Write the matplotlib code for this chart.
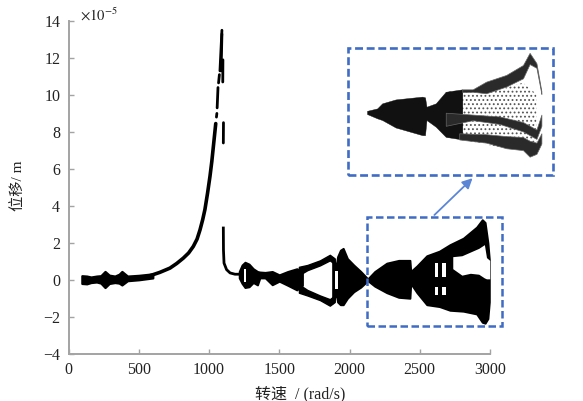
import matplotlib
matplotlib.use("Agg")
import matplotlib.pyplot as plt
from matplotlib.patches import Rectangle

plt.rcParams["font.family"] = ["Liberation Serif", "Noto Sans CJK SC", "DejaVu Sans"]
plt.rcParams["mathtext.fontset"] = "stix"
plt.rcParams["hatch.linewidth"] = 0.8

GREY = "#a3a3a3"
BLUE = "#3f6cc4"
TEXT = "#222222"

x_ticks = [0, 500, 1000, 1500, 2000, 2500, 3000]
y_ticks = [-4, -2, 0, 2, 4, 6, 8, 10, 12, 14]

# low speed band
low_speed = [95, 130, 160, 200, 230, 260, 290, 330, 360, 380, 420, 500, 600]
low_upper = [0.22, 0.2, 0.15, 0.2, 0.22, 0.45, 0.25, 0.2, 0.3, 0.45, 0.2, 0.24, 0.32]
low_lower = [-0.2, -0.22, -0.15, -0.12, -0.18, -0.42, -0.2, -0.15, -0.18, -0.28, -0.05, 0.0, 0.1]

# resonance rise, then the broken pieces near the peak
rise_speed = [580, 650, 722, 770, 817, 855, 888, 915, 936, 955, 971, 990, 1007, 1020, 1031, 1048]
rise_value = [0.22, 0.4, 0.63, 0.88, 1.17, 1.45, 1.8, 2.2, 2.7, 3.25, 3.8, 4.7, 5.6, 6.4, 7.2, 8.45]
dash_speed = [(1053, 1056), (1058, 1064), (1068, 1074), (1078, 1092), (1086, 1092), (1098, 1099), (1102, 1103)]
dash_value = [(8.8, 9.0), (9.3, 10.4), (10.65, 11.1), (11.3, 13.5), (11.3, 13.3), (10.7, 11.9), (7.4, 8.5)]
drop_speed = [1102, 1103, 1107, 1125, 1150, 1185, 1225]
drop_value = [2.8, 1.6, 0.9, 0.55, 0.37, 0.3, 0.3]

# after the resonance, single band
mid_speed = [1215, 1235, 1256, 1285, 1315, 1345, 1362, 1400, 1450, 1500, 1560, 1625, 1665]
mid_upper = [0.45, 0.8, 0.95, 0.85, 0.6, 0.45, 0.42, 0.4, 0.45, 0.27, 0.45, 0.6, 0.45]
mid_lower = [0.1, -0.2, -0.42, -0.38, -0.15, -0.28, 0.1, 0.1, -0.27, -0.08, -0.3, -0.55, -0.3]

# diamond shaped split
branch_speed = [1640, 1700, 1790, 1860, 1895]
branch_up_top = [0.7, 0.8, 1.05, 1.35, 1.15]
branch_up_bottom = [0.25, 0.52, 0.78, 1.05, 0.85]
branch_low_top = [-0.25, -0.55, -0.85, -1.05, -0.85]
branch_low_bottom = [-0.7, -0.85, -1.1, -1.4, -1.2]

# wide band up to the end of the sweep
wide_speed = [1880, 1905, 1915, 1935, 1955, 1985, 2030, 2080, 2130, 2180, 2265, 2350, 2430, 2436,
              2480, 2550, 2640, 2715, 2810, 2905, 2945, 2965, 2985, 2995]
wide_upper = [1.2, 0.75, 1.25, 1.6, 1.7, 1.15, 0.8, 0.45, 0.05, 0.45, 0.9, 1.05, 1.05, 0.45,
              0.75, 1.3, 1.55, 1.9, 2.25, 2.85, 3.25, 3.1, 2.0, 1.1]
wide_lower = [-1.25, -0.75, -1.2, -1.35, -1.35, -1.0, -0.65, -0.4, -0.05, -0.35, -0.7, -0.95, -1.0, -0.2,
              -0.7, -1.35, -1.45, -1.65, -1.7, -1.85, -2.3, -2.35, -2.1, -1.2]

# white gaps inside the wide band
gap_speed = [2735, 2800, 2860, 2920, 2960, 2975, 2998]
gap_upper = [1.25, 1.3, 1.5, 1.7, 1.9, 1.2, 1.05]
gap_lower = [0.6, 0.25, 0.35, 0.3, 0.1, 0.05, 0.05]
stripe_left = [2610, 2660, 2610, 2660, 1900, 1248]
stripe_right = [2630, 2690, 2630, 2690, 1915, 1262]
stripe_top = [0.9, 0.9, -0.4, -0.4, 0.5, 0.6]
stripe_bottom = [0.15, 0.15, -0.8, -0.8, -0.5, -0.1]

# zoomed panel
inset_speed = [2130, 2179, 2203, 2268, 2397, 2410, 2417, 2462, 2510, 2590]
inset_upper = [0.1, 0.23, 0.5, 0.71, 0.86, 0.82, 0.32, 0.5, 1.12, 1.25]
inset_lower = [-0.07, -0.3, -0.39, -0.79, -1.2, -1.2, -0.39, -0.75, -1.29, -1.43]
tip_speed = [2590, 2640, 2705, 2802, 2883, 2915, 2948, 2972]
tip_upper = [1.25, 1.25, 1.66, 2.02, 2.55, 3.2, 2.65, 1.15]
tip_lower = [1.1, 1.12, 1.04, 1.4, 1.84, 2.6, 2.4, 1.0]
mid_branch_speed = [2510, 2640, 2770, 2883, 2948, 2972]
mid_branch_upper = [0.0, -0.1, -0.2, -0.5, -0.9, -0.1]
mid_branch_lower = [-0.7, -0.4, -0.6, -1.0, -1.4, -0.7]
bot_branch_speed = [2575, 2705, 2802, 2883, 2915, 2948, 2972]
bot_branch_upper = [-1.1, -1.15, -1.25, -1.3, -1.5, -1.6, -1.1]
bot_branch_lower = [-1.43, -1.6, -1.9, -2.0, -2.35, -2.2, -1.65]
haze_speed = [2510, 2590, 2705, 2802, 2883, 2948]
haze_upper = [1.1, 1.2, 1.05, 1.35, 1.6, 1.0]
haze_lower = [-1.3, -1.43, -1.7, -1.9, -2.0, -2.0]

fig = plt.figure(figsize=(5.83, 4.01), dpi=100)
ax = fig.add_axes([68.5 / 583, 1 - 353.7 / 401, 421.5 / 583, 332.7 / 401])
ax.set_xlim(0, 3000)
ax.set_ylim(-4, 14)
ax.set_xticks(x_ticks)
ax.set_yticks(y_ticks)
ax.set_yticklabels([str(v).replace("-", "\u2212") for v in y_ticks])
ax.spines["top"].set_visible(False)
ax.spines["right"].set_visible(False)
for side in ["left", "bottom"]:
    ax.spines[side].set_color(GREY)
    ax.spines[side].set_linewidth(1.4)
ax.tick_params(direction="in", length=3.5, width=1.0, color=GREY, labelsize=11.5, labelcolor=TEXT, pad=6)

ax.fill_between(low_speed, low_upper, low_lower, color="black", lw=1.6)
ax.plot(rise_speed, rise_value, color="black", lw=2.6, solid_capstyle="round")
for sp, val in zip(dash_speed, dash_value):
    ax.plot(sp, val, color="black", lw=2.0, solid_capstyle="round")
ax.plot(drop_speed, drop_value, color="black", lw=2.0)
ax.fill_between(mid_speed, mid_upper, mid_lower, color="black", lw=1.4)
ax.fill_between(branch_speed, branch_up_top, branch_up_bottom, color="black", lw=1.0)
ax.fill_between(branch_speed, branch_low_top, branch_low_bottom, color="black", lw=1.0)
ax.fill_between(wide_speed, wide_upper, wide_lower, color="black", lw=1.4)
ax.fill_between(gap_speed, gap_upper, gap_lower, color="white", lw=0)
for left, right, top, bottom in zip(stripe_left, stripe_right, stripe_top, stripe_bottom):
    ax.fill_between([left, right], [top, top], [bottom, bottom], color="white", lw=0)

# dashed box round the zoomed range, drawn in data units
ax.add_patch(Rectangle((2125, -2.49), 960, 5.89, fill=False, ec=BLUE, lw=1.8, ls=(0, (3, 1.4)), clip_on=False, zorder=5))
ax.annotate("", xy=(2890, 5.6), xytext=(2590, 3.4), annotation_clip=False,
            arrowprops=dict(arrowstyle="-|>", color="#5b86d6", lw=1.3, mutation_scale=15))

ax.text(0.027, 1.018, r"$\times 10^{-5}$", transform=ax.transAxes, fontsize=10.5, color=TEXT, va="center", ha="left")
fig.text(18 / 583, 1 - 186 / 401, "位移/ m", rotation=90, fontsize=11, color=TEXT, ha="center", va="center")
fig.text(300 / 583, 1 - 394 / 401, "转速  / (rad/s)", fontsize=11.5, color=TEXT, ha="center", va="center")

# zoomed panel, its frame sits a bit wider than the data
inset = fig.add_axes([348 / 583, 1 - 175 / 401, 205 / 583, 127 / 401])
inset.set_xlim(2038, 3028)
inset.set_ylim(-3.33, 3.46)
inset.set_xticks([])
inset.set_yticks([])
for spine in inset.spines.values():
    spine.set_visible(False)
inset.patch.set_alpha(0)
fig.add_artist(Rectangle((348 / 583, 1 - 175 / 401), 205 / 583, 127 / 401, transform=fig.transFigure,
                         fill=False, ec=BLUE, lw=1.9, ls=(0, (3, 1.4))))
inset.fill_between(haze_speed, haze_upper, haze_lower, facecolor="none", edgecolor="#555555", hatch="....", lw=0)
inset.fill_between(inset_speed, inset_upper, inset_lower, color="#111111", lw=0.3)
inset.fill_between(tip_speed, tip_upper, tip_lower, facecolor="#2a2a2a", edgecolor="#666666", lw=0.5)
inset.fill_between(mid_branch_speed, mid_branch_upper, mid_branch_lower, facecolor="#2a2a2a", edgecolor="#666666", lw=0.5)
inset.fill_between(bot_branch_speed, bot_branch_upper, bot_branch_lower, facecolor="#2a2a2a", edgecolor="#666666", lw=0.5)

fig.savefig("out.png", dpi=100)
